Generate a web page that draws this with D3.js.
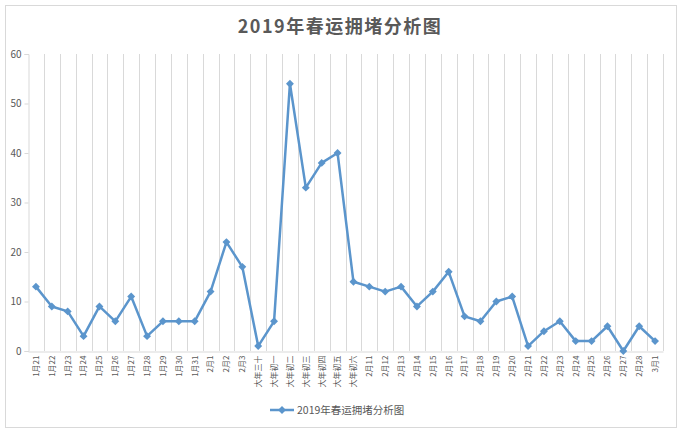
<!DOCTYPE html>
<html>
<head>
<meta charset="utf-8">
<script src="https://cdn.jsdelivr.net/npm/d3@7"></script>
<style>
  body { margin: 0; background: #fff; }
  svg { display: block; font-family: "Noto Sans CJK SC", "Noto Sans", sans-serif; -webkit-font-smoothing: antialiased; }
</style>
</head>
<body>
<svg id="chart" width="683" height="434"></svg>
<script>
var title = '2019年春运拥堵分析图';

var categories = [
  '1月21', '1月22', '1月23', '1月24', '1月25', '1月26', '1月27', '1月28', '1月29', '1月30', '1月31',
  '2月1', '2月2', '2月3',
  '大年三十', '大年初一', '大年初二', '大年初三', '大年初四', '大年初五', '大年初六',
  '2月11', '2月12', '2月13', '2月14', '2月15', '2月16', '2月17', '2月18', '2月19', '2月20',
  '2月21', '2月22', '2月23', '2月24', '2月25', '2月26', '2月27', '2月28',
  '3月1'
];

var values = [
  13, 9, 8, 3, 9, 6, 11, 3, 6, 6, 6,
  12, 22, 17,
  1, 6, 54, 33, 38, 40, 14,
  13, 12, 13, 9, 12, 16, 7, 6, 10, 11,
  1, 4, 6, 2, 2, 5, 0, 5,
  2
];

var yTicks = [0, 10, 20, 30, 40, 50, 60];

var svg = d3.select('#chart'),
    lineColor = '#5b95cc',
    gridColor = '#d9d9d9',
    textColor = '#595959';

var plot = { left: 28, right: 663, top: 54, bottom: 351 };

// outer frame
svg.append('rect')
  .attr('x', 5.5).attr('y', 5.5)
  .attr('width', 671).attr('height', 422)
  .attr('fill', '#fff')
  .attr('stroke', gridColor);

svg.append('text')
  .attr('x', 340).attr('y', 33)
  .attr('text-anchor', 'middle')
  .attr('font-size', 18)
  .attr('font-weight', 'bold')
  .attr('letter-spacing', 1.5)
  .attr('fill', textColor)
  .text(title);

var x = d3.scaleBand()
  .domain(categories)
  .range([plot.left, plot.right]);

var y = d3.scaleLinear()
  .domain([0, 60])
  .range([plot.bottom, plot.top]);

// vertical gridlines at category boundaries
svg.append('g')
  .selectAll('line')
  .data(categories)
  .enter()
  .append('line')
  .attr('x1', function (d, i) { return Math.round(plot.left + (i + 1) * x.step()) + 0.5; })
  .attr('x2', function (d, i) { return Math.round(plot.left + (i + 1) * x.step()) + 0.5; })
  .attr('y1', plot.top)
  .attr('y2', plot.bottom)
  .attr('stroke', gridColor);

// y axis
var yAxis = svg.append('g')
  .attr('transform', 'translate(' + (plot.left + 0.5) + ',0)')
  .call(d3.axisLeft(y).tickValues(yTicks).tickSize(4).tickPadding(3));
yAxis.select('.domain').attr('stroke', gridColor);
yAxis.selectAll('.tick line').attr('stroke', gridColor);
yAxis.selectAll('.tick text')
  .attr('fill', textColor)
  .attr('font-size', 10)
  .attr('font-family', '"Noto Sans CJK SC", sans-serif');

// x axis
var xAxis = svg.append('g')
  .attr('transform', 'translate(0,' + (plot.bottom + 0.5) + ')')
  .call(d3.axisBottom(x).tickSize(0).tickPadding(0));
xAxis.select('.domain').attr('stroke', gridColor);
xAxis.selectAll('.tick text')
  .attr('fill', textColor)
  .attr('font-size', 8)
  .attr('font-family', '"Noto Sans CJK SC", sans-serif')
  .attr('text-anchor', 'end')
  .attr('dy', '0.35em')
  .attr('transform', 'translate(0,4) rotate(-90)');

// series line
var line = d3.line()
  .x(function (d, i) { return x(categories[i]) + x.bandwidth() / 2; })
  .y(function (d) { return y(d); });

svg.append('path')
  .datum(values)
  .attr('d', line)
  .attr('fill', 'none')
  .attr('stroke', lineColor)
  .attr('stroke-width', 2.5)
  .attr('stroke-linejoin', 'round');

var diamond = d3.symbol().type(d3.symbolDiamond2).size(40);

svg.append('g')
  .selectAll('path')
  .data(values)
  .enter()
  .append('path')
  .attr('d', diamond)
  .attr('transform', function (d, i) {
    return 'translate(' + (x(categories[i]) + x.bandwidth() / 2) + ',' + y(d) + ')';
  })
  .attr('fill', lineColor);

// legend
var legend = svg.append('g').attr('transform', 'translate(270,410)');
legend.append('line')
  .attr('x1', 0).attr('x2', 24)
  .attr('stroke', lineColor)
  .attr('stroke-width', 2.5);
legend.append('path')
  .attr('d', diamond)
  .attr('transform', 'translate(12,0)')
  .attr('fill', lineColor);
legend.append('text')
  .attr('x', 27).attr('dy', '0.35em')
  .attr('font-size', 10.5)
  .attr('fill', textColor)
  .text(title);
</script>
</body>
</html>
